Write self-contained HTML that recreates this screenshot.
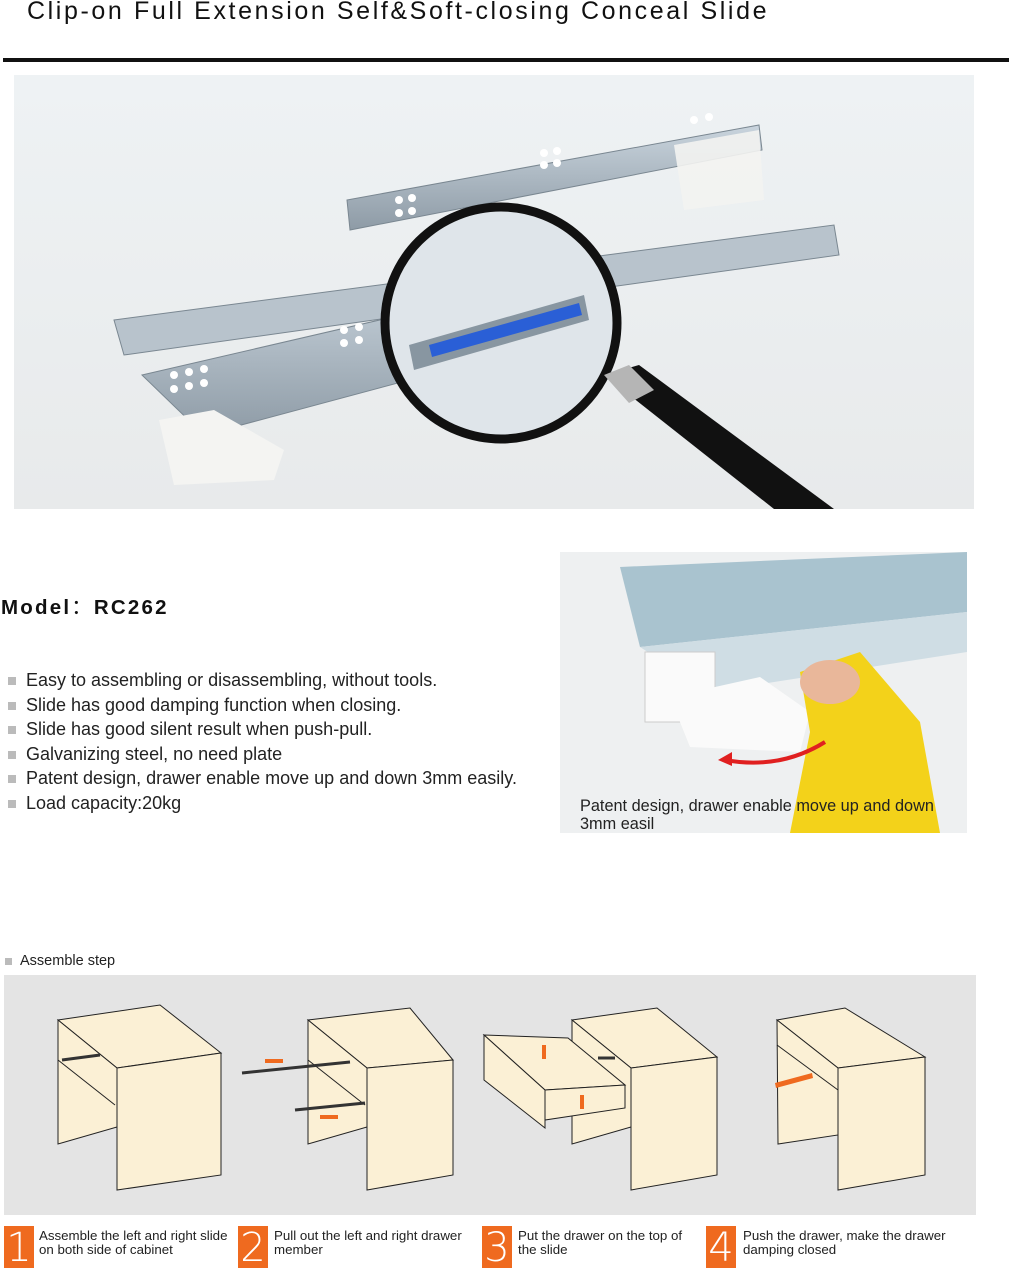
<!DOCTYPE html>
<html><head><meta charset="utf-8"><style>
body{margin:0;width:1009px;height:1269px;background:#fff;position:relative;overflow:hidden;font-family:"Liberation Sans",sans-serif}
.abs{position:absolute}
.title{left:27px;top:-3px;font-size:25px;letter-spacing:2.6px;color:#111;white-space:nowrap}
.rule{left:3px;top:58px;width:1006px;height:4px;background:#111}
.model{left:1px;top:590px;font-size:20.5px;font-weight:bold;letter-spacing:2.2px;color:#111}
.list{left:8px;top:668px;font-size:18px;line-height:24.5px;color:#222}
.list div{position:relative;padding-left:18px;white-space:nowrap}
.list div:before{content:"";position:absolute;left:0;top:9px;width:8px;height:8px;background:#bbb}
.step{font-size:13.3px;line-height:14px;color:#222;white-space:nowrap}
.num{width:30px;height:42px;background:#ef6a1f;color:#fff;font-size:40px;line-height:44px;text-align:center;font-family:"DejaVu Sans",sans-serif;font-weight:200}
</style></head><body>
<div class="abs title">Clip-on Full Extension Self&amp;Soft-closing Conceal Slide</div>
<div class="abs rule"></div>

<svg class="abs" style="left:14px;top:75px" width="960" height="434" viewBox="0 0 960 434">
<defs>
<linearGradient id="bg" x1="0" y1="0" x2="0" y2="1"><stop offset="0" stop-color="#eef2f4"/><stop offset="1" stop-color="#e8eaeb"/></linearGradient>
<linearGradient id="mt" x1="0" y1="0" x2="0" y2="1"><stop offset="0" stop-color="#c9d4dd"/><stop offset="1" stop-color="#8e9ba6"/></linearGradient>
</defs>
<rect width="960" height="434" fill="url(#bg)"/>
<polygon points="333,125 745,50 748,75 336,155" fill="url(#mt)" stroke="#7a8791"/>
<polygon points="100,245 820,150 825,180 110,280" fill="#b8c3cc" stroke="#7a8791"/>
<polygon points="128,300 560,200 600,250 190,360" fill="url(#mt)" stroke="#7a8791"/>
<polygon points="660,70 745,55 750,125 670,135" fill="#f3f3f1" opacity=".9"/>
<polygon points="145,345 200,335 270,375 260,405 160,410" fill="#f4f4f2"/>
<g fill="#fff"><circle cx="385" cy="125" r="4"/><circle cx="398" cy="123" r="4"/><circle cx="385" cy="138" r="4"/><circle cx="398" cy="136" r="4"/><circle cx="530" cy="78" r="4"/><circle cx="543" cy="76" r="4"/><circle cx="530" cy="90" r="4"/><circle cx="543" cy="88" r="4"/><circle cx="680" cy="45" r="4"/><circle cx="695" cy="42" r="4"/><circle cx="160" cy="300" r="4"/><circle cx="175" cy="297" r="4"/><circle cx="190" cy="294" r="4"/><circle cx="160" cy="314" r="4"/><circle cx="175" cy="311" r="4"/><circle cx="190" cy="308" r="4"/><circle cx="330" cy="255" r="4"/><circle cx="345" cy="252" r="4"/><circle cx="330" cy="268" r="4"/><circle cx="345" cy="265" r="4"/></g>
<circle cx="487" cy="248" r="116" fill="#dfe5ea" stroke="#111" stroke-width="9"/>
<polygon points="395,270 570,220 575,245 400,295" fill="#8896a1"/>
<polygon points="415,270 565,228 568,240 418,282" fill="#2a5fd6"/>
<polygon points="590,300 625,290 820,434 760,434" fill="#111"/>
<polygon points="590,300 615,290 640,315 615,328" fill="#b5b5b5"/>
</svg>

<div class="abs model">Model<span style="font-weight:normal">：</span>RC262</div>
<div class="abs list">
<div>Easy to assembling or disassembling, without tools.</div>
<div>Slide has good damping function when closing.</div>
<div>Slide has good silent result when push-pull.</div>
<div>Galvanizing steel, no need plate</div>
<div>Patent design, drawer enable move up and down 3mm easily.</div>
<div>Load capacity:20kg</div>
</div>

<svg class="abs" style="left:560px;top:552px" width="407" height="281" viewBox="0 0 407 281">
<rect width="407" height="281" fill="#eef0f1"/>
<polygon points="60,15 407,0 407,60 80,95" fill="#a9c3cf"/>
<polygon points="80,95 407,60 407,100 150,140" fill="#cfdde4"/>
<rect x="85" y="100" width="70" height="70" fill="#fafafa" stroke="#ccc"/>
<polygon points="110,145 200,125 250,160 240,200 130,195" fill="#fafafa"/>
<polygon points="240,120 300,100 360,170 380,281 230,281 250,180" fill="#f3d21a"/>
<ellipse cx="270" cy="130" rx="30" ry="22" fill="#e9b79a"/>
<path d="M165,208 Q220,218 265,190" stroke="#e02020" stroke-width="4" fill="none"/>
<polygon points="158,208 172,200 172,214" fill="#e02020"/>
<text x="20" y="259" font-family="Liberation Sans" font-size="16.3" fill="#222">Patent design, drawer enable move up and down</text>
<text x="20" y="277" font-family="Liberation Sans" font-size="16.3" fill="#222">3mm easil</text>
</svg>

<div class="abs" style="left:5px;top:958px;width:7px;height:7px;background:#bbb"></div>
<div class="abs" style="left:20px;top:953px;font-size:14.5px;color:#222">Assemble step</div>

<svg class="abs" style="left:4px;top:975px" width="972" height="240" viewBox="4 975 972 240">
<rect x="4" y="975" width="972" height="240" fill="#e4e4e4"/>
<g fill="#fbf0d5" stroke="#222" stroke-width="1">
<polygon points="58,1020 160,1005 221,1053 117,1068"/>
<polygon points="58,1020 117,1068 117,1127 58,1144"/>
<line x1="58" y1="1060" x2="115" y2="1105"/>
<polygon points="117,1068 221,1053 221,1175 117,1190"/>
<polygon points="308,1020 410,1008 453,1060 367,1068"/>
<polygon points="308,1020 367,1068 367,1127 308,1144"/>
<line x1="308" y1="1060" x2="365" y2="1105"/>
<polygon points="367,1068 453,1060 453,1175 367,1190"/>
<polygon points="572,1020 657,1008 717,1057 631,1068"/>
<polygon points="572,1020 631,1068 631,1127 572,1144"/>
<polygon points="631,1068 717,1057 717,1175 631,1190"/>
<polygon points="484,1035 568,1038 625,1085 545,1090"/>
<polygon points="484,1035 545,1090 545,1128 484,1080"/>
<polygon points="545,1090 625,1085 625,1108 545,1120"/>
<polygon points="777,1020 845,1008 925,1057 838,1068"/>
<polygon points="777,1020 838,1068 838,1135 778,1144"/>
<line x1="777" y1="1045" x2="838" y2="1090"/>
<polygon points="838,1068 925,1057 925,1175 838,1190"/>
</g>
<g stroke="#333" stroke-width="3"><line x1="62" y1="1060" x2="100" y2="1055"/><line x1="242" y1="1073" x2="350" y2="1062"/><line x1="295" y1="1110" x2="365" y2="1103"/><line x1="598" y1="1058" x2="615" y2="1058"/></g>
<g fill="#ef6a1f"><rect x="265" y="1059" width="18" height="4"/><rect x="320" y="1115" width="18" height="4"/><rect x="542" y="1045" width="4" height="14"/><rect x="580" y="1095" width="4" height="14"/><polygon points="775,1083 812,1073 813,1078 776,1088"/></g>
</svg>

<div class="abs num" style="left:4px;top:1226px">1</div>
<div class="abs step" style="left:39px;top:1229px">Assemble the left and right slide<br>on both side of cabinet</div>
<div class="abs num" style="left:238px;top:1226px">2</div>
<div class="abs step" style="left:274px;top:1229px">Pull out the left and right drawer<br>member</div>
<div class="abs num" style="left:482px;top:1226px">3</div>
<div class="abs step" style="left:518px;top:1229px">Put the drawer on the top of<br>the slide</div>
<div class="abs num" style="left:706px;top:1226px">4</div>
<div class="abs step" style="left:743px;top:1229px">Push the drawer, make the drawer<br>damping closed</div>
</body></html>
